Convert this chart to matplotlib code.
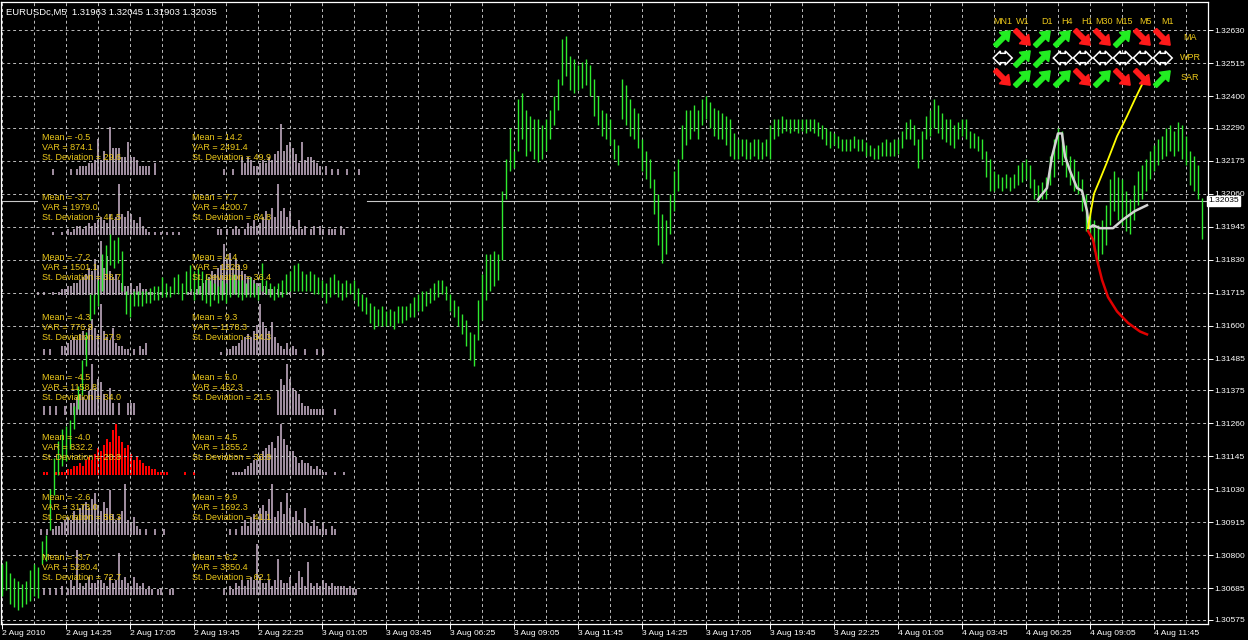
import numpy as np
import matplotlib.pyplot as plt

W, H = 1248, 640
plt.rcParams['font.family'] = ['Liberation Sans', 'DejaVu Sans']

# EURUSDc M5 bars, one entry per two bars (high / low)
highs = [1.3077, 1.3078, 1.3074, 1.3072, 1.3071, 1.3070, 1.3071, 1.3075, 1.3077, 1.3076,
         1.3085, 1.3087, 1.3103, 1.3114, 1.3120, 1.3124, 1.3125, 1.3127, 1.3132, 1.3139,
         1.3148, 1.3158, 1.3171, 1.3171, 1.3176, 1.3185, 1.3188, 1.3192, 1.3190, 1.3191,
         1.3186, 1.3172, 1.3171, 1.3172, 1.3172, 1.3172, 1.3172, 1.3173, 1.3174, 1.3174,
         1.3177, 1.3175, 1.3174, 1.3177, 1.3178, 1.3175, 1.3179, 1.3181, 1.3179, 1.3180,
         1.3179, 1.3178, 1.3176, 1.3175, 1.3174, 1.3176, 1.3175, 1.3177, 1.3178, 1.3176,
         1.3176, 1.3175, 1.3177, 1.3175, 1.3174, 1.3182, 1.3176, 1.3175, 1.3174, 1.3175,
         1.3176, 1.3178, 1.3179, 1.3181, 1.3182, 1.3179, 1.3178, 1.3179, 1.3178, 1.3177,
         1.3176, 1.3175, 1.3177, 1.3178, 1.3176, 1.3175, 1.3176, 1.3175, 1.3176, 1.3173,
         1.3171, 1.3170, 1.3168, 1.3167, 1.3166, 1.3167, 1.3165, 1.3166, 1.3165, 1.3167,
         1.3167, 1.3167, 1.3168, 1.3170, 1.3171, 1.3172, 1.3172, 1.3173, 1.3175, 1.3176,
         1.3176, 1.3174, 1.3171, 1.3169, 1.3167, 1.3164, 1.3162, 1.3158, 1.3157, 1.3169,
         1.3178, 1.3185, 1.3185, 1.3186, 1.3185, 1.3207, 1.3218, 1.3229, 1.3221, 1.3239,
         1.3241, 1.3235, 1.3233, 1.3232, 1.3232, 1.3230, 1.3232, 1.3235, 1.3240, 1.3246,
         1.3260, 1.3261, 1.3254, 1.3253, 1.3251, 1.3252, 1.3253, 1.3251, 1.3246, 1.3240,
         1.3235, 1.3234, 1.3232, 1.3225, 1.3223, 1.3246, 1.3244, 1.3239, 1.3236, 1.3234,
         1.3225, 1.3221, 1.3218, 1.3211, 1.3206, 1.3199, 1.3197, 1.3206, 1.3214, 1.3218,
         1.3230, 1.3235, 1.3235, 1.3237, 1.3235, 1.3239, 1.3240, 1.3238, 1.3236, 1.3235,
         1.3234, 1.3233, 1.3232, 1.3227, 1.3225, 1.3225, 1.3225, 1.3224, 1.3225, 1.3225,
         1.3224, 1.3225, 1.3230, 1.3232, 1.3232, 1.3233, 1.3232, 1.3232, 1.3232, 1.3232,
         1.3232, 1.3232, 1.3232, 1.3232, 1.3231, 1.3230, 1.3229, 1.3228, 1.3227, 1.3226,
         1.3225, 1.3225, 1.3225, 1.3226, 1.3225, 1.3225, 1.3224, 1.3223, 1.3222, 1.3223,
         1.3224, 1.3225, 1.3224, 1.3225, 1.3225, 1.3228, 1.3231, 1.3232, 1.3230, 1.3225,
         1.3228, 1.3233, 1.3235, 1.3239, 1.3237, 1.3234, 1.3232, 1.3232, 1.3230, 1.3231,
         1.3232, 1.3232, 1.3228, 1.3227, 1.3226, 1.3225, 1.3221, 1.3218, 1.3214, 1.3213,
         1.3212, 1.3213, 1.3212, 1.3213, 1.3216, 1.3217, 1.3218, 1.3216, 1.3211, 1.3209,
         1.3210, 1.3212, 1.3219, 1.3225, 1.3229, 1.3228, 1.3223, 1.3219, 1.3218, 1.3214,
         1.3211, 1.3206, 1.3199, 1.3197, 1.3195, 1.3197, 1.3202, 1.3211, 1.3214, 1.3212,
         1.3211, 1.3207, 1.3204, 1.3209, 1.3214, 1.3216, 1.3218, 1.3221, 1.3223, 1.3225,
         1.3226, 1.3229, 1.3230, 1.3228, 1.3231, 1.3230, 1.3226, 1.3221, 1.3219, 1.3216,
         1.32045]
lows = [1.3066, 1.3068, 1.3063, 1.3062, 1.3061, 1.3062, 1.3063, 1.3064, 1.3066, 1.3065,
        1.3077, 1.3078, 1.3089, 1.3101, 1.3108, 1.3111, 1.3113, 1.3117, 1.3124, 1.3131,
        1.3136, 1.3146, 1.3162, 1.3164, 1.3167, 1.3172, 1.3178, 1.3181, 1.3180, 1.3182,
        1.3172, 1.3164, 1.3163, 1.3167, 1.3167, 1.3167, 1.3168, 1.3168, 1.3169, 1.3169,
        1.3170, 1.3170, 1.3170, 1.3171, 1.3171, 1.3169, 1.3171, 1.3172, 1.3169, 1.3171,
        1.3169, 1.3168, 1.3167, 1.3169, 1.3168, 1.3169, 1.3168, 1.3170, 1.3171, 1.3170,
        1.3169, 1.3170, 1.3170, 1.3170, 1.3169, 1.3172, 1.3171, 1.3170, 1.3169, 1.3170,
        1.3170, 1.3171, 1.3172, 1.3172, 1.3172, 1.3172, 1.3172, 1.3172, 1.3171, 1.3171,
        1.3170, 1.3168, 1.3170, 1.3171, 1.3170, 1.3169, 1.3170, 1.3171, 1.3169, 1.3167,
        1.3165, 1.3164, 1.3161, 1.3159, 1.3160, 1.3160, 1.3160, 1.3160, 1.3159, 1.3161,
        1.3161, 1.3162, 1.3163, 1.3163, 1.3165, 1.3165, 1.3167, 1.3168, 1.3169, 1.3170,
        1.3171, 1.3169, 1.3165, 1.3163, 1.3160, 1.3157, 1.3153, 1.3148, 1.3146, 1.3155,
        1.3162, 1.3169, 1.3172, 1.3174, 1.3176, 1.3183, 1.3204, 1.3214, 1.3215, 1.3221,
        1.3225, 1.3219, 1.3221, 1.3218, 1.3217, 1.3218, 1.3221, 1.3225, 1.3230, 1.3235,
        1.3244, 1.3247, 1.3242, 1.3241, 1.3242, 1.3243, 1.3244, 1.3240, 1.3233, 1.3230,
        1.3226, 1.3225, 1.3223, 1.3218, 1.3216, 1.3232, 1.3230, 1.3226, 1.3225, 1.3222,
        1.3214, 1.3211, 1.3208, 1.3199, 1.3188, 1.3182, 1.3185, 1.3192, 1.3200, 1.3207,
        1.3218, 1.3223, 1.3225, 1.3228, 1.3225, 1.3230, 1.3232, 1.3229, 1.3226, 1.3225,
        1.3225, 1.3223, 1.3219, 1.3218, 1.3218, 1.3219, 1.3218, 1.3218, 1.3219, 1.3218,
        1.3218, 1.3219, 1.3218, 1.3225, 1.3226, 1.3227, 1.3228, 1.3227, 1.3228, 1.3227,
        1.3228, 1.3227, 1.3228, 1.3227, 1.3226, 1.3225, 1.3223, 1.3222, 1.3223, 1.3222,
        1.3221, 1.3221, 1.3221, 1.3222, 1.3221, 1.3221, 1.3219, 1.3219, 1.3218, 1.3218,
        1.3219, 1.3219, 1.3219, 1.3219, 1.3220, 1.3222, 1.3225, 1.3225, 1.3223, 1.3215,
        1.3218, 1.3225, 1.3226, 1.3229, 1.3227, 1.3225, 1.3224, 1.3223, 1.3222, 1.3225,
        1.3226, 1.3225, 1.3222, 1.3222, 1.3221, 1.3218, 1.3212, 1.3207, 1.3207, 1.3208,
        1.3207, 1.3208, 1.3207, 1.3208, 1.3209, 1.3210, 1.3211, 1.3208, 1.3204, 1.3203,
        1.3204, 1.3204, 1.3209, 1.3212, 1.3218, 1.3216, 1.3212, 1.3209, 1.3207, 1.3206,
        1.3200, 1.3193, 1.3192, 1.3186, 1.3182, 1.3185, 1.3188, 1.3195, 1.3200, 1.3197,
        1.3195, 1.3193, 1.3192, 1.3197, 1.3202, 1.3204, 1.3207, 1.3211, 1.3214, 1.3216,
        1.3218, 1.3219, 1.3221, 1.3219, 1.3221, 1.3218, 1.3216, 1.3209, 1.3207, 1.3204,
        1.31903]
bid = 1.32035
header = "EURUSDc,M5  1.31963 1.32045 1.31903 1.32035"

# pattern forecast lines (bar index, price)
match_x = [518, 522.5, 525, 528, 530, 531.5, 534, 537.5, 540, 542.5, 543.5, 545.5, 549, 555.5, 560.5, 566.5, 572.5]
match_y = [1.3204, 1.3208, 1.3219, 1.3227, 1.3227, 1.3219, 1.3214, 1.3208, 1.3207, 1.3200, 1.3194, 1.3195,
           1.3194, 1.3194, 1.3197, 1.3200, 1.3202]
up_x = [543, 544.5, 546, 549, 552.5, 557.5, 562.5, 566.5, 570, 572.5]
up_y = [1.3194, 1.3200, 1.3206, 1.3211, 1.3217, 1.3226, 1.3233, 1.3239, 1.3244, 1.3247]
dn_x = [543, 545.5, 547.5, 550, 553, 557.5, 563, 569, 572.5]
dn_y = [1.3193, 1.3190, 1.3183, 1.3176, 1.3170, 1.3165, 1.3161, 1.3158, 1.3157]
fom = "FOM = 0.5"

y_labels = ["1.32630", "1.32515", "1.32400", "1.32290", "1.32175", "1.32060", "1.31945", "1.31830",
            "1.31715", "1.31600", "1.31485", "1.31375", "1.31260", "1.31145", "1.31030", "1.30915",
            "1.30800", "1.30685", "1.30575"]
x_labels = ["2 Aug 2010", "2 Aug 14:25", "2 Aug 17:05", "2 Aug 19:45", "2 Aug 22:25",
            "3 Aug 01:05", "3 Aug 03:45", "3 Aug 06:25", "3 Aug 09:05", "3 Aug 11:45",
            "3 Aug 14:25", "3 Aug 17:05", "3 Aug 19:45", "3 Aug 22:25", "4 Aug 01:05",
            "4 Aug 03:45", "4 Aug 06:25", "4 Aug 09:05", "4 Aug 11:45"]

# signal panel
periods = ["MN1", "W1", "D1", "H4", "H1", "M30", "M15", "M5", "M1"]
sig_names = ["MA", "WPR", "SAR"]
sig_ma = ["up", "down", "up", "up", "down", "down", "up", "down", "down"]
sig_wpr = ["flat", "up", "up", "flat", "flat", "flat", "flat", "flat", "flat"]
sig_sar = ["down", "up", "up", "up", "down", "up", "down", "down", "up"]

# distribution statistics (left column / right column, top to bottom)
left_stats = [(-0.5, 874.1, 29.6), (-3.7, 1979.0, 44.5), (-7.2, 1501.1, 38.7), (-4.3, 776.9, 27.9),
              (-4.5, 1158.8, 34.0), (-4.0, 832.2, 28.8), (-2.6, 3173.0, 56.3), (-3.7, 5280.4, 72.7)]
right_stats = [(14.2, 2491.4, 49.9), (7.7, 4200.7, 64.8), (4.4, 1326.9, 36.4), (9.3, 1178.3, 34.3),
               (5.0, 462.3, 21.5), (4.5, 1355.2, 36.8), (9.9, 1692.3, 41.1), (6.2, 3850.4, 62.1)]
left_start = [5, 5, 0, 2, 2, 2, 1, 2]
right_start = [12, 10, 0, 11, 30, 15, 14, 12]
left_counts = [
    [2, 0, 0, 0, 0, 0, 2, 0, 2, 3, 3, 3, 4, 4, 5, 12, 5, 8, 5, 16, 9, 9, 9, 6, 6, 11, 6, 6, 5, 3, 3, 3, 3, 0, 4],
    [1, 0, 0, 1, 0, 2, 1, 2, 3, 3, 2, 3, 4, 3, 4, 5, 6, 5, 4, 7, 5, 6, 17, 7, 6, 8, 7, 5, 4, 6, 3, 2, 1, 0, 1, 0, 1, 0, 1, 0, 1, 0, 1],
    [1, 0, 1, 0, 0, 1, 0, 1, 2, 2, 3, 3, 4, 4, 5, 6, 7, 9, 8, 12, 10, 18, 9, 13, 8, 6, 7, 5, 4, 3, 3, 4, 2, 3, 4, 2, 2, 1, 1, 0, 1, 1, 0, 1],
    [2, 0, 2, 0, 0, 0, 3, 3, 4, 5, 6, 5, 7, 8, 6, 9, 12, 9, 7, 17, 8, 6, 5, 9, 4, 3, 3, 2, 2, 0, 2, 0, 3, 2, 4],
    [3, 0, 3, 0, 3, 0, 0, 3, 0, 4, 4, 6, 7, 6, 5, 8, 17, 9, 12, 11, 7, 5, 9, 4, 0, 4, 0, 0, 4, 4, 4],
    [1, 1, 0, 0, 1, 1, 1, 1, 2, 2, 3, 3, 4, 3, 5, 6, 5, 7, 9, 8, 10, 12, 11, 15, 17, 13, 11, 9, 10, 7, 5, 6, 5, 4, 3, 3, 2, 2, 1, 1, 1, 1, 0, 0, 0, 0, 0, 1, 0, 0, 1],
    [2, 0, 2, 0, 2, 3, 3, 4, 5, 6, 5, 8, 6, 9, 10, 11, 9, 12, 14, 10, 8, 11, 9, 15, 7, 5, 6, 8, 17, 5, 4, 6, 3, 2, 0, 2, 0, 0, 2, 0, 0, 2],
    [2, 0, 2, 0, 2, 0, 3, 0, 2, 5, 3, 15, 4, 3, 4, 6, 4, 4, 5, 5, 4, 3, 6, 4, 5, 14, 5, 6, 4, 3, 6, 4, 3, 4, 2, 3, 2, 0, 2, 2, 0, 0, 2, 2],
]
right_counts = [
    [2, 0, 0, 2, 0, 0, 6, 4, 6, 5, 3, 3, 4, 5, 4, 6, 5, 7, 8, 17, 8, 10, 11, 9, 7, 4, 11, 5, 6, 6, 5, 4, 3, 0, 3, 0, 2, 0, 2, 0, 0, 2, 0, 0, 0, 2],
    [2, 2, 0, 2, 0, 2, 3, 2, 0, 2, 4, 3, 5, 3, 4, 6, 8, 5, 9, 6, 17, 8, 9, 6, 8, 3, 2, 5, 2, 3, 0, 2, 3, 0, 3, 2, 0, 2, 2, 2, 0, 3, 2],
    [1, 2, 1, 2, 3, 4, 5, 6, 8, 7, 9, 10, 17, 12, 14, 9, 12, 10, 8, 7, 6, 6, 5, 4, 4, 3, 3, 2, 2, 0, 2, 1, 0, 1, 1],
    [1, 0, 2, 2, 3, 3, 4, 5, 6, 7, 6, 8, 10, 17, 11, 9, 8, 11, 6, 4, 3, 2, 4, 2, 3, 2, 0, 0, 2, 0, 0, 0, 2, 0, 2],
    [8, 12, 10, 17, 12, 9, 8, 7, 4, 3, 3, 2, 2, 2, 2, 2, 0, 0, 0, 2],
    [1, 1, 1, 1, 2, 3, 4, 5, 5, 6, 8, 9, 10, 11, 9, 13, 17, 12, 10, 8, 8, 6, 4, 5, 4, 4, 3, 2, 3, 2, 1, 1, 0, 0, 1, 0, 0, 1],
    [2, 0, 2, 0, 3, 5, 3, 6, 7, 5, 9, 10, 8, 12, 17, 6, 8, 11, 7, 14, 9, 6, 8, 5, 4, 9, 4, 3, 5, 3, 2, 4, 2, 0, 3, 2],
    [2, 0, 3, 2, 4, 3, 5, 3, 5, 6, 5, 17, 6, 4, 4, 5, 3, 5, 12, 5, 4, 4, 6, 3, 4, 8, 6, 3, 11, 4, 3, 4, 3, 5, 4, 3, 4, 3, 3, 3, 3, 2, 3, 2, 2],
]
highlight_row = 5  # the current-pattern distribution drawn in red

GREEN = '#2eea2e'
GOLD = '#ecc81a'
GRID = '#bdbdbd'
HIST = '#9e8c9e'

fig = plt.figure(figsize=(W / 100, H / 100), dpi=100, facecolor='black')

# main chart area: x in bars, y in price
ax = fig.add_axes([1 / W, 1 - 624 / H, 1207 / W, 622 / H], zorder=2)
ax.set_facecolor('none')
ax.set_xlim(-0.5, 603)
ax.set_ylim(1.30561, 1.32728)

bar_x = np.arange(len(highs)) * 2
ax.vlines(bar_x, lows, highs, color=GREEN, lw=1.0, zorder=3)

# bid line (hidden behind the distribution block on the left)
ax.axhline(bid, xmin=0, xmax=0.03, color='#c8c8c8', lw=0.8, zorder=2)
ax.axhline(bid, xmin=0.303, xmax=1, color='#c8c8c8', lw=0.8, zorder=2)

ax.plot(match_x, match_y, color='#d4d4d4', lw=1.8, zorder=4)
ax.plot(up_x, up_y, color='#ffff00', lw=1.3, zorder=4)
ax.plot(dn_x, dn_y, color='#e00000', lw=1.8, zorder=4)

# grid
yt = [float(v) for v in y_labels]
ax.set_yticks(yt)
ax.set_yticklabels(y_labels)
ax.set_xticks(np.arange(len(x_labels)) * 32)
ax.set_xticklabels(x_labels, ha='left')
for b in range(0, 603, 16):
    ax.axvline(b, color=GRID, lw=0.7, ls=(0, (3, 3)), zorder=1)
for v in yt:
    ax.axhline(v, color=GRID, lw=0.7, ls=(0, (3, 3)), zorder=1)

ax.yaxis.tick_right()
ax.tick_params(axis='both', colors='white', labelcolor='white', labelsize=6.1, length=3.5, width=0.7)
ax.tick_params(axis='x', pad=1)
ax.tick_params(axis='y', pad=1)
for s in ax.spines.values():
    s.set_color('white')
    s.set_linewidth(0.9)

# current price tag covers the nearest grid label
ax.text(1.0, bid, "1.32035", transform=ax.get_yaxis_transform(), ha='left', va='center',
        fontsize=6.1, color='black', zorder=6, clip_on=False,
        bbox=dict(boxstyle='square,pad=0.15', fc='white', ec='white'))

fig.text(6 / W, 1 - 12 / H, header, color='white', fontsize=6.8, va='center')
ax.text(985, 1.32305, fom, color=GOLD, fontsize=19, va='center', zorder=5)

# distributions of matched outcomes
for c, (stats, starts, counts) in enumerate([(left_stats, left_start, left_counts),
                                             (right_stats, right_start, right_counts)]):
    x0 = [37, 187][c]
    for r in range(8):
        yb = 175 + 60 * r
        hax = fig.add_axes([x0 / W, 1 - yb / H, 180 / W, 60 / H], zorder=1)
        hax.set_xlim(0, 60)
        hax.set_ylim(0, 20)
        hax.axis('off')
        col = '#ff0000' if (c == 0 and r == highlight_row) else HIST
        cnt = counts[r]
        hax.bar(np.arange(len(cnt)) + starts[r], cnt, width=0.66, align='edge', color=col, lw=0)
        m, var, sd = stats[r]
        for j, t in enumerate([f"Mean = {m:.1f}", f"VAR = {var:.1f}", f"St. Deviation = {sd:.1f}"]):
            fig.text((x0 + 5) / W, 1 - (yb - 38 + 10 * j) / H, t, color=GOLD, fontsize=6.5,
                     va='center', zorder=3)

# multi-timeframe signal panel: 9 columns x 3 rows of 20 px cells
label_x = [1003, 1023, 1047, 1067, 1087, 1104, 1124, 1146, 1167]
for i, p in enumerate(periods):
    fig.text(label_x[i] / W, 1 - 21 / H, p, color=GOLD, fontsize=6.5, ha='center', va='center')
pax = fig.add_axes([993 / W, 1 - 88 / H, 180 / W, 60 / H], zorder=5)
pax.set_xlim(0, 9)
pax.set_ylim(3, 0)
pax.axis('off')
for r, row in enumerate([sig_ma, sig_wpr, sig_sar]):
    for i, s in enumerate(row):
        if s == "flat":
            pax.text(i + 0.5, r + 0.5, "     ", fontsize=4.5, ha='center', va='center',
                     bbox=dict(boxstyle='darrow,pad=0.35', fc='black', ec='white', lw=1.1))
        elif s == "up":
            pax.arrow(i + 0.1, r + 0.9, 0.76, -0.76, width=0.22, head_width=0.66,
                      head_length=0.44, length_includes_head=True, fc='#22ee22', ec='#22ee22')
        else:
            pax.arrow(i + 0.1, r + 0.1, 0.76, 0.76, width=0.22, head_width=0.66,
                      head_length=0.44, length_includes_head=True, fc='#ff1a1a', ec='#ff1a1a')
    fig.text(1190 / W, 1 - (38 + 20 * r) / H, sig_names[r], color=GOLD, fontsize=6.5,
             ha='center', va='center')

fig.savefig('out.png', dpi=100, facecolor='black')
